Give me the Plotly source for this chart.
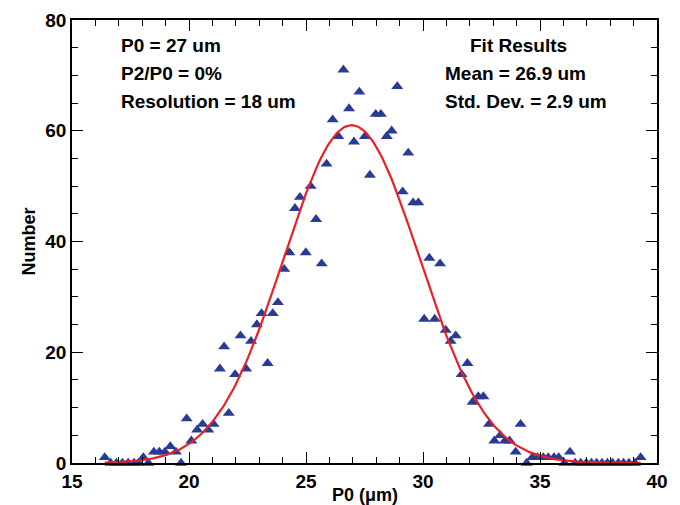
import numpy as np
import plotly.graph_objects as go

# Measured data points (P0 in um, count)
p0 = [16.40, 16.65, 16.90, 17.15, 17.40, 17.65, 17.85, 18.05, 18.26, 18.50,
      18.73, 18.97, 19.20, 19.44, 19.66, 19.90, 20.10, 20.35, 20.58, 20.82,
      21.05, 21.32, 21.50, 21.70, 21.97, 22.20, 22.44, 22.65, 22.90, 23.10,
      23.36, 23.58, 23.80, 24.07, 24.29, 24.53, 24.74, 24.99, 25.20, 25.43,
      25.67, 25.88, 26.14, 26.38, 26.60, 26.84, 27.05, 27.28, 27.52, 27.73,
      27.98, 28.20, 28.45, 28.66, 28.90, 29.13, 29.37, 29.58, 29.80, 30.05,
      30.27, 30.50, 30.73, 30.97, 31.18, 31.40, 31.65, 31.90, 32.12, 32.36,
      32.58, 32.82, 33.05, 33.30, 33.50, 33.70, 33.96, 34.17, 34.43, 34.67,
      34.90, 35.14, 35.35, 35.60, 35.80, 36.04, 36.28, 36.50, 36.74, 36.98,
      37.20, 37.42, 37.65, 37.88, 38.10, 38.35, 38.57, 38.80, 39.06, 39.30]
counts = [1, 0, 0, 0, 0, 0, 0, 1, 0, 2,
          2, 2, 3, 2, 0, 8, 4, 6, 7, 6,
          7, 17, 21, 9, 16, 23, 17, 22, 25, 27,
          18, 27, 29, 35, 38, 46, 48, 38, 50, 44,
          36, 54, 62, 59, 71, 64, 58, 67, 59, 52,
          63, 63, 59, 60, 68, 49, 56, 47, 47, 26,
          37, 26, 36, 24, 22, 23, 16, 18, 11, 12,
          12, 7, 4, 5, 4, 4, 2, 7, 0, 1,
          1, 1, 1, 1, 1, 0, 2, 0, 0, 0,
          0, 0, 0, 0, 0, 0, 0, 0, 0, 1]

# Gaussian fit parameters (from the fit shown)
fit_amp = 61.0
fit_mean = 26.95
fit_sd = 2.9
fit_x = np.linspace(16.4, 39.3, 300)
fit_y = fit_amp * np.exp(-0.5 * ((fit_x - fit_mean) / fit_sd) ** 2)

x_ticks = [15, 20, 25, 30, 35, 40]
y_ticks = [0, 20, 40, 60, 80]

left_text = ["P0 = 27 um", "P2/P0 = 0%", "Resolution = 18 um"]
right_text = ["Fit Results", "Mean = 26.9 um", "Std. Dev. = 2.9 um"]
x_title = "P0 (μm)"
y_title = "Number"

font_family = "Liberation Sans, Arial, sans-serif"

fig = go.Figure()
fig.add_trace(go.Scatter(
    x=p0, y=counts, mode="markers",
    marker=dict(symbol="triangle-up", size=10.5, color="#2a3b93",
                line=dict(width=0)),
    cliponaxis=False, showlegend=False))
fig.add_trace(go.Scatter(
    x=fit_x, y=fit_y, mode="lines",
    line=dict(color="#e8202a", width=2.2),
    showlegend=False))

axis_common = dict(
    showline=True, linecolor="black", linewidth=1.5, mirror="ticks",
    ticks="inside", ticklen=11, tickwidth=1.3, tickcolor="black",
    showgrid=False, zeroline=False, automargin=False,
    tickfont=dict(family=font_family, size=19, color="black", weight="bold"),
)

fig.update_xaxes(
    range=[15, 40], tickvals=x_ticks, ticklabelstandoff=0,
    minor=dict(dtick=1, ticks="inside", ticklen=6, tickwidth=1.1,
               tickcolor="black", showgrid=False),
    **axis_common)
fig.update_yaxes(
    range=[0, 80], tickvals=y_ticks,
    minor=dict(dtick=5, ticks="inside", ticklen=6, tickwidth=1.1,
               tickcolor="black", showgrid=False),
    **axis_common)

txt_font = dict(family=font_family, size=19, color="black")
annotations = []
for i, t in enumerate(left_text):
    annotations.append(dict(
        text="<b>" + t + "</b>", xref="paper", yref="paper",
        x=0.080, y=0.942 - i * 0.0632, xanchor="left", yanchor="middle",
        showarrow=False, font=txt_font))
for i, t in enumerate(right_text):
    annotations.append(dict(
        text="<b>" + t + "</b>", xref="paper", yref="paper",
        x=(0.763 if i == 0 else 0.634), y=0.942 - i * 0.0632,
        xanchor=("center" if i == 0 else "left"), yanchor="middle",
        showarrow=False, font=txt_font))
annotations.append(dict(
    text="<b>" + x_title + "</b>", xref="paper", yref="paper",
    x=0.5, y=0, xanchor="center", yanchor="middle", yshift=-32,
    showarrow=False, font=dict(family=font_family, size=18, color="black")))
annotations.append(dict(
    text="<b>" + y_title + "</b>", xref="paper", yref="paper",
    x=0, y=0.5, xanchor="center", yanchor="middle", xshift=-44,
    textangle=-90, showarrow=False,
    font=dict(family=font_family, size=18, color="black")))

fig.update_layout(
    width=680, height=505,
    margin=dict(l=72, r=23, t=20, b=42),
    plot_bgcolor="white", paper_bgcolor="white",
    annotations=annotations,
    font=dict(family=font_family, color="black"),
)

fig.write_html("out.html")
